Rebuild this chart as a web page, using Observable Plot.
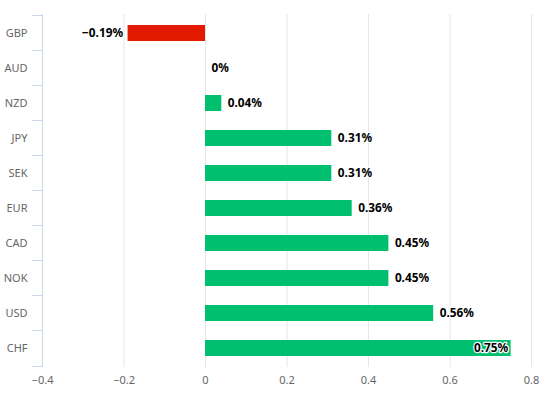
<!DOCTYPE html>
<html>
<head>
<meta charset="utf-8">
<script src="https://cdn.jsdelivr.net/npm/d3@7"></script>
<script src="https://cdn.jsdelivr.net/npm/@observablehq/plot@0.6"></script>
<style>
  html, body { margin: 0; padding: 0; background: #fff; }
  #chart { width: 550px; height: 397px; }
</style>
</head>
<body>
<div id="chart"></div>
<script>
const currencies = ["GBP", "AUD", "NZD", "JPY", "SEK", "EUR", "CAD", "NOK", "USD", "CHF"];
const changes = [-0.19, 0, 0.04, 0.31, 0.31, 0.36, 0.45, 0.45, 0.56, 0.75];
const xTicks = [-0.4, -0.2, 0, 0.2, 0.4, 0.6, 0.8];

const data = currencies.map((c, i) => ({ currency: c, value: changes[i] }));

const W = 550, H = 397;
const mTop = 14, mBottom = 30, mLeft = 42, mRight = 19;
const innerH = H - mTop - mBottom;
const pInner = 0.55, pOuter = 0.275;
const step = innerH / (currencies.length - pInner + 2 * pOuter);

const xDomain = [-0.4, 0.8];
const pxPerUnit = (W - mLeft - mRight) / (xDomain[1] - xDomain[0]);
const labelOf = d => `${d.value < 0 ? "\u2212" : ""}${Math.abs(d.value)}%`;
const approxWidth = d => labelOf(d).length * 7.5;
const fitsOutside = d => d.value >= 0 && (xDomain[1] - d.value) * pxPerUnit > approxWidth(d) + 8;
const inside = d => d.value > 0 && !fitsOutside(d);

const labelFont = { fontSize: 11.8, fontWeight: "bold", fill: "#000", stroke: "#fff", strokeWidth: 2.5, paintOrder: "stroke" };

const chart = Plot.plot({
  width: W,
  height: H,
  marginTop: mTop,
  marginBottom: mBottom,
  marginLeft: mLeft,
  marginRight: mRight,
  style: { fontFamily: "'Noto Sans', 'DejaVu Sans', sans-serif", background: "#fff" },
  x: { domain: xDomain, ticks: xTicks, tickFormat: d3.format("~g") },
  y: { domain: currencies, paddingInner: pInner, paddingOuter: pOuter },
  marks: [
    Plot.gridX(xTicks.slice(1), { stroke: "#e6e6e6", strokeOpacity: 1, strokeWidth: 1 }),
    Plot.ruleX([xDomain[0]], { stroke: "#ccd6eb", strokeWidth: 1 }),
    Plot.axisX({ ticks: xTicks, tickSize: 0, tickPadding: 9, fontSize: 11, color: "#666", label: null, tickFormat: d3.format("~g") }),
    Plot.axisY({ tickSize: 0, tickPadding: 15, fontSize: 11, color: "#666", label: null }),
    Plot.barX(data, {
      y: "currency",
      x: "value",
      fill: d => d.value < 0 ? "#e41a00" : "#00bf6f"
    }),
    Plot.text(data.filter(d => d.value < 0), {
      y: "currency", x: "value", text: labelOf, textAnchor: "end", dx: -5, ...labelFont
    }),
    Plot.text(data.filter(fitsOutside), {
      y: "currency", x: "value", text: labelOf, textAnchor: "start", dx: 6, ...labelFont
    }),
    Plot.text(data.filter(inside), {
      y: "currency", x: "value", text: labelOf, textAnchor: "end", dx: -3, ...labelFont
    })
  ]
});

// band boundary ticks on the left axis (Highcharts-style category ticks)
const svg = d3.select(chart);
const yScale = chart.scale("y");
const xScale = chart.scale("x");
const x0 = xScale.apply(xDomain[0]);
const boundaries = currencies.map(c => yScale.apply(c) - (step - yScale.bandwidth) / 2);
boundaries.push(yScale.apply(currencies[currencies.length - 1]) + yScale.bandwidth + (step - yScale.bandwidth) / 2);
svg.append("g")
  .selectAll("line")
  .data(boundaries)
  .join("line")
  .attr("x1", x0 - 10).attr("x2", x0)
  .attr("y1", d => Math.round(d) + 0.5).attr("y2", d => Math.round(d) + 0.5)
  .attr("stroke", "#ccd6eb");

document.getElementById("chart").appendChild(chart);
</script>
</body>
</html>
